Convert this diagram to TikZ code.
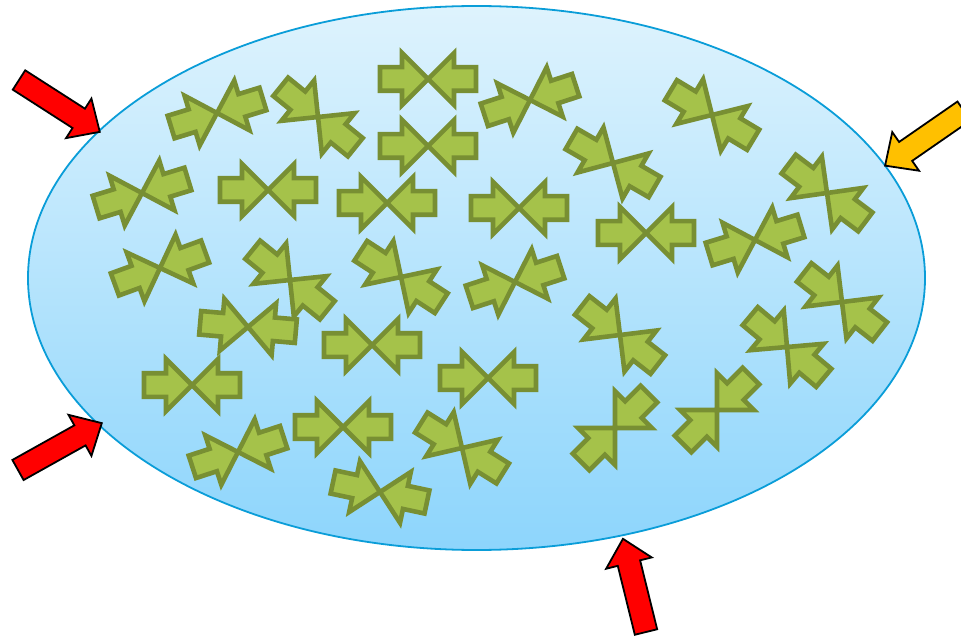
\documentclass[tikz,border=0pt]{standalone}
\usepackage{tikz}

\definecolor{leaf}{HTML}{A5C24A}
\definecolor{leafdark}{HTML}{788F33}
\definecolor{skytop}{HTML}{DEF3FD}
\definecolor{skybottom}{HTML}{8DD5FC}
\definecolor{rim}{HTML}{0A9DD8}
\definecolor{gold}{HTML}{FFC000}

\begin{document}
\begin{tikzpicture}[
  x=1pt, y=-1pt,
  bubble/.style={draw=rim, line width=1.8, top color=skytop, bottom color=skybottom},
  squeezeline/.style={draw=leafdark, fill=leaf, line width=4.6, line join=miter},
  redarrow/.style={draw=black, fill=red, line width=1.8, line join=miter},
  goldarrow/.style={redarrow, fill=gold},
  squeeze/.pic={
    \path[pic actions] (-48,11.8) -- (-26,11.8) -- (-26,26) -- (0,0) -- (26,26) -- (26,11.8)
      -- (48,11.8) -- (48,-11.8) -- (26,-11.8) -- (26,-26) -- (0,0) -- (-26,-26) -- (-26,-11.8)
      -- (-48,-11.8) -- cycle;
  },
  push/.pic={
    \path[pic actions] (0,-11.5) -- (71,-11.5) -- (71,-23.5) -- (96,0) -- (71,23.5)
      -- (71,11.5) -- (0,11.5) -- cycle;
  }
]
\useasboundingbox (0,0) rectangle (961,639);

% cell
\path[bubble] (476.5,278) ellipse [x radius=448.5, y radius=272];

% particles
\pic[squeezeline] (p1) at (428,79) {squeeze};
\pic[squeezeline] (p2) at (428,146) {squeeze};
\pic[squeezeline, rotate=17] (p3) at (217,113) {squeeze};
\pic[squeezeline, rotate=-39] (p4) at (318,117) {squeeze};
\pic[squeezeline, rotate=17] (p5) at (142,193) {squeeze};
\pic[squeezeline] (p6) at (268,190) {squeeze};
\pic[squeezeline, rotate=20] (p7) at (160,268) {squeeze};
\pic[squeezeline, rotate=-39] (p8) at (290,280) {squeeze};
\pic[squeezeline] (p9) at (387,203) {squeeze};
\pic[squeezeline, rotate=18] (p10) at (530,100) {squeeze};
\pic[squeezeline] (p11) at (519,208) {squeeze};
\pic[squeezeline, rotate=-33] (p12) at (401,277) {squeeze};
\pic[squeezeline, rotate=18] (p13) at (515,282) {squeeze};
\pic[squeezeline, rotate=-30] (p14) at (613,163) {squeeze};
\pic[squeezeline, rotate=-31] (p15) at (712,115) {squeeze};
\pic[squeezeline] (p16) at (646,233) {squeeze};
\pic[squeezeline, rotate=17] (p17) at (755,240) {squeeze};
\pic[squeezeline, rotate=-37] (p18) at (827,193) {squeeze};
\pic[squeezeline, rotate=-38] (p19) at (842,302) {squeeze};
\pic[squeezeline, rotate=-38] (p20) at (620,335) {squeeze};
\pic[squeezeline, rotate=-5] (p21) at (248,327) {squeeze};
\pic[squeezeline] (p22) at (372,345) {squeeze};
\pic[squeezeline] (p23) at (192,385) {squeeze};
\pic[squeezeline, rotate=18] (p24) at (238,452) {squeeze};
\pic[squeezeline] (p25) at (343,427) {squeeze};
\pic[squeezeline, rotate=-12] (p26) at (380,492) {squeeze};
\pic[squeezeline] (p27) at (488,378) {squeeze};
\pic[squeezeline, rotate=-32] (p28) at (462,448) {squeeze};
\pic[squeezeline, rotate=-40] (p29) at (787,347) {squeeze};
\pic[squeezeline, rotate=45] (p30) at (615,428) {squeeze};
\pic[squeezeline, rotate=45] (p31) at (717,410) {squeeze};

% outside pressure
\pic[redarrow, rotate=-32.7] (pushnw) at (19,80) {push};
\pic[redarrow, rotate=29.2] (pushsw) at (18,470) {push};
\pic[redarrow, rotate=103.9] (pushs) at (646,632) {push};
\pic[goldarrow, rotate=-145.3] (pushne) at (964,111) {push};
\end{tikzpicture}
\end{document}
